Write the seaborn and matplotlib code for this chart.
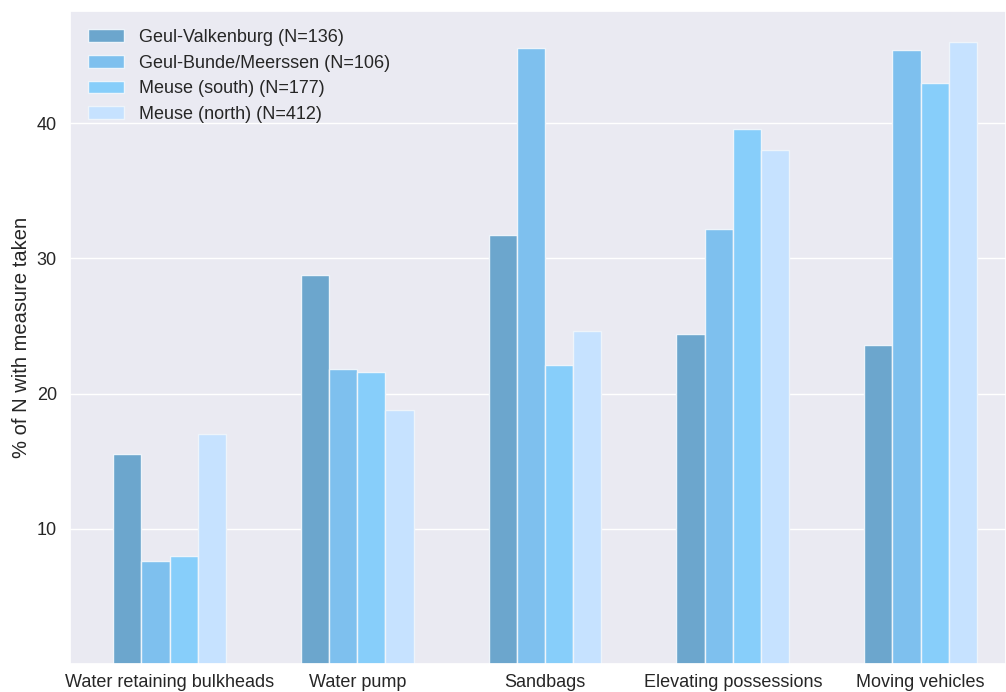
import pandas as pd
import seaborn as sns
import matplotlib.pyplot as plt

measures = [
    "Water retaining bulkheads",
    "Water pump",
    "Sandbags",
    "Elevating possessions",
    "Moving vehicles",
]
regions = [
    "Geul-Valkenburg (N=136)",
    "Geul-Bunde/Meerssen (N=106)",
    "Meuse (south) (N=177)",
    "Meuse (north) (N=412)",
]
valkenburg = [15.5, 28.8, 31.7, 24.4, 23.6]
bunde_meerssen = [7.6, 21.8, 45.6, 32.2, 45.4]
meuse_south = [8.0, 21.6, 22.1, 39.6, 43.0]
meuse_north = [17.0, 18.8, 24.6, 38.0, 46.0]
colors = ["#6CA6CD", "#7EC0EE", "#87CEFA", "#C6E2FF"]

series = [valkenburg, bunde_meerssen, meuse_south, meuse_north]
df = pd.DataFrame(
    [
        {"measure": m, "region": r, "pct": v}
        for r, vals in zip(regions, series)
        for m, v in zip(measures, vals)
    ]
)

sns.set_theme(style="darkgrid")
plt.rcParams["font.family"] = ["Liberation Sans", "DejaVu Sans"]

fig = plt.figure(figsize=(10.06, 6.92), dpi=100)
ax = fig.add_axes([0.0696, 0.0405, 0.9304, 0.9436])

sns.barplot(
    data=df,
    x="measure",
    y="pct",
    hue="region",
    order=measures,
    hue_order=regions,
    palette=colors,
    saturation=1,
    width=0.6,
    edgecolor="#eef4fa",
    linewidth=1,
    ax=ax,
)

ax.grid(axis="x", visible=False)
ax.set_xlim(-0.53, 4.455)
ax.set_yticks([10, 20, 30, 40])
ax.set_xlabel("")
ax.set_ylabel("% of N with measure taken", fontsize=14.5, labelpad=4)
ax.tick_params(axis="both", labelsize=13)
ax.tick_params(axis="x", pad=1)
ax.legend(loc="upper left", frameon=False, fontsize=13, labelspacing=0.48,
          borderaxespad=0.6)

fig.savefig("out.png", dpi=100)
